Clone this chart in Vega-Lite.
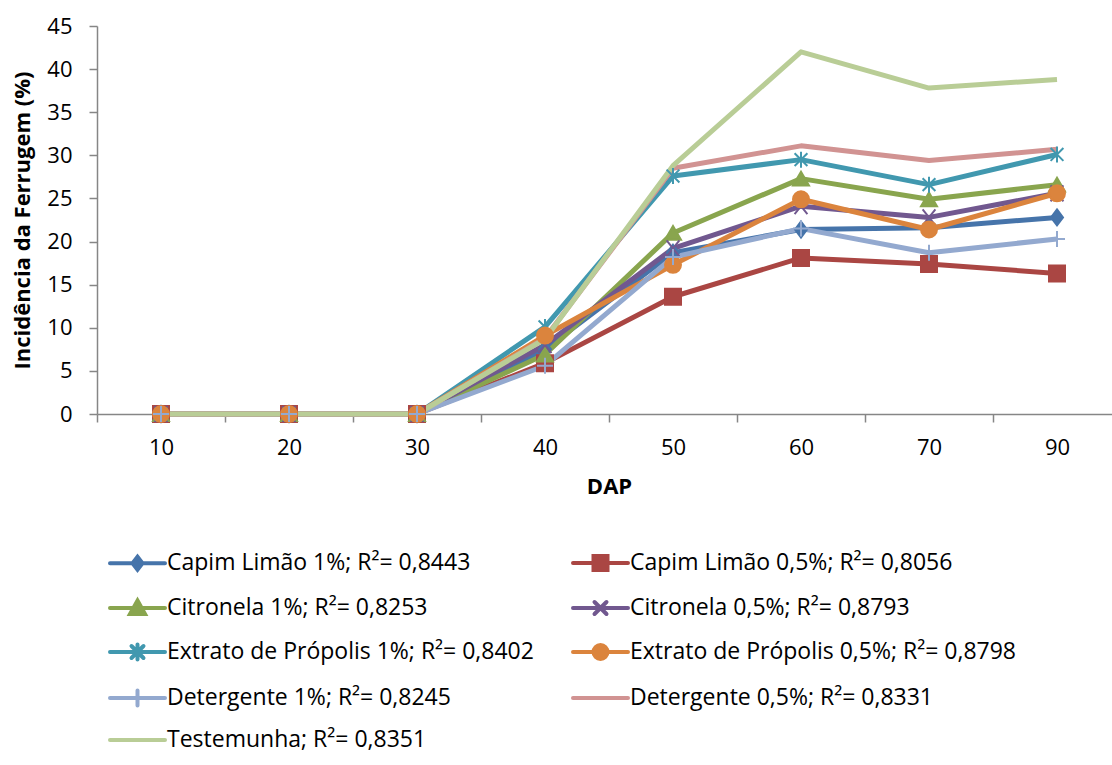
{
  "$schema": "https://vega.github.io/schema/vega-lite/v6.json",
  "autosize": {"type": "none"},
  "padding": {"left": 97, "top": 26, "right": 0, "bottom": 351},
  "width": 1015,
  "height": 388,
  "background": "white",
  "config": {
    "view": {"stroke": null},
    "font": "Open Sans",
    "axis": {
      "labelFont": "Open Sans", "labelFontSize": 22, "labelColor": "#000000",
      "titleFont": "Open Sans", "titleFontSize": 22, "titleFontWeight": "bold", "titleColor": "#000000",
      "domainColor": "#868686", "domainWidth": 1.5, "tickColor": "#868686", "tickWidth": 1.5, "tickSize": 8, "grid": false
    }
  },
  "data": {"values": [
    {"serie": "Capim Limão 1%; R²= 0,8443", "DAP": 10, "v": 0},
    {"serie": "Capim Limão 1%; R²= 0,8443", "DAP": 20, "v": 0},
    {"serie": "Capim Limão 1%; R²= 0,8443", "DAP": 30, "v": 0},
    {"serie": "Capim Limão 1%; R²= 0,8443", "DAP": 40, "v": 7.5},
    {"serie": "Capim Limão 1%; R²= 0,8443", "DAP": 50, "v": 18.7},
    {"serie": "Capim Limão 1%; R²= 0,8443", "DAP": 60, "v": 21.4},
    {"serie": "Capim Limão 1%; R²= 0,8443", "DAP": 70, "v": 21.6},
    {"serie": "Capim Limão 1%; R²= 0,8443", "DAP": 90, "v": 22.8},
    {"serie": "Capim Limão 0,5%; R²= 0,8056", "DAP": 10, "v": 0},
    {"serie": "Capim Limão 0,5%; R²= 0,8056", "DAP": 20, "v": 0},
    {"serie": "Capim Limão 0,5%; R²= 0,8056", "DAP": 30, "v": 0},
    {"serie": "Capim Limão 0,5%; R²= 0,8056", "DAP": 40, "v": 5.9},
    {"serie": "Capim Limão 0,5%; R²= 0,8056", "DAP": 50, "v": 13.6},
    {"serie": "Capim Limão 0,5%; R²= 0,8056", "DAP": 60, "v": 18.1},
    {"serie": "Capim Limão 0,5%; R²= 0,8056", "DAP": 70, "v": 17.4},
    {"serie": "Capim Limão 0,5%; R²= 0,8056", "DAP": 90, "v": 16.3},
    {"serie": "Citronela 1%; R²= 0,8253", "DAP": 10, "v": 0},
    {"serie": "Citronela 1%; R²= 0,8253", "DAP": 20, "v": 0},
    {"serie": "Citronela 1%; R²= 0,8253", "DAP": 30, "v": 0},
    {"serie": "Citronela 1%; R²= 0,8253", "DAP": 40, "v": 6.9},
    {"serie": "Citronela 1%; R²= 0,8253", "DAP": 50, "v": 21.0},
    {"serie": "Citronela 1%; R²= 0,8253", "DAP": 60, "v": 27.3},
    {"serie": "Citronela 1%; R²= 0,8253", "DAP": 70, "v": 24.9},
    {"serie": "Citronela 1%; R²= 0,8253", "DAP": 90, "v": 26.6},
    {"serie": "Citronela 0,5%; R²= 0,8793", "DAP": 10, "v": 0},
    {"serie": "Citronela 0,5%; R²= 0,8793", "DAP": 20, "v": 0},
    {"serie": "Citronela 0,5%; R²= 0,8793", "DAP": 30, "v": 0},
    {"serie": "Citronela 0,5%; R²= 0,8793", "DAP": 40, "v": 8.0},
    {"serie": "Citronela 0,5%; R²= 0,8793", "DAP": 50, "v": 19.2},
    {"serie": "Citronela 0,5%; R²= 0,8793", "DAP": 60, "v": 24.1},
    {"serie": "Citronela 0,5%; R²= 0,8793", "DAP": 70, "v": 22.8},
    {"serie": "Citronela 0,5%; R²= 0,8793", "DAP": 90, "v": 25.6},
    {"serie": "Extrato de Própolis 1%; R²= 0,8402", "DAP": 10, "v": 0},
    {"serie": "Extrato de Própolis 1%; R²= 0,8402", "DAP": 20, "v": 0},
    {"serie": "Extrato de Própolis 1%; R²= 0,8402", "DAP": 30, "v": 0},
    {"serie": "Extrato de Própolis 1%; R²= 0,8402", "DAP": 40, "v": 10.1},
    {"serie": "Extrato de Própolis 1%; R²= 0,8402", "DAP": 50, "v": 27.6},
    {"serie": "Extrato de Própolis 1%; R²= 0,8402", "DAP": 60, "v": 29.5},
    {"serie": "Extrato de Própolis 1%; R²= 0,8402", "DAP": 70, "v": 26.6},
    {"serie": "Extrato de Própolis 1%; R²= 0,8402", "DAP": 90, "v": 30.1},
    {"serie": "Extrato de Própolis 0,5%; R²= 0,8798", "DAP": 10, "v": 0},
    {"serie": "Extrato de Própolis 0,5%; R²= 0,8798", "DAP": 20, "v": 0},
    {"serie": "Extrato de Própolis 0,5%; R²= 0,8798", "DAP": 30, "v": 0},
    {"serie": "Extrato de Própolis 0,5%; R²= 0,8798", "DAP": 40, "v": 9.1},
    {"serie": "Extrato de Própolis 0,5%; R²= 0,8798", "DAP": 50, "v": 17.3},
    {"serie": "Extrato de Própolis 0,5%; R²= 0,8798", "DAP": 60, "v": 24.9},
    {"serie": "Extrato de Própolis 0,5%; R²= 0,8798", "DAP": 70, "v": 21.4},
    {"serie": "Extrato de Própolis 0,5%; R²= 0,8798", "DAP": 90, "v": 25.6},
    {"serie": "Detergente 1%; R²= 0,8245", "DAP": 10, "v": 0},
    {"serie": "Detergente 1%; R²= 0,8245", "DAP": 20, "v": 0},
    {"serie": "Detergente 1%; R²= 0,8245", "DAP": 30, "v": 0},
    {"serie": "Detergente 1%; R²= 0,8245", "DAP": 40, "v": 5.6},
    {"serie": "Detergente 1%; R²= 0,8245", "DAP": 50, "v": 18.2},
    {"serie": "Detergente 1%; R²= 0,8245", "DAP": 60, "v": 21.5},
    {"serie": "Detergente 1%; R²= 0,8245", "DAP": 70, "v": 18.7},
    {"serie": "Detergente 1%; R²= 0,8245", "DAP": 90, "v": 20.3},
    {"serie": "Detergente 0,5%; R²= 0,8331", "DAP": 10, "v": 0},
    {"serie": "Detergente 0,5%; R²= 0,8331", "DAP": 20, "v": 0},
    {"serie": "Detergente 0,5%; R²= 0,8331", "DAP": 30, "v": 0},
    {"serie": "Detergente 0,5%; R²= 0,8331", "DAP": 40, "v": 8.8},
    {"serie": "Detergente 0,5%; R²= 0,8331", "DAP": 50, "v": 28.5},
    {"serie": "Detergente 0,5%; R²= 0,8331", "DAP": 60, "v": 31.1},
    {"serie": "Detergente 0,5%; R²= 0,8331", "DAP": 70, "v": 29.4},
    {"serie": "Detergente 0,5%; R²= 0,8331", "DAP": 90, "v": 30.7},
    {"serie": "Testemunha; R²= 0,8351", "DAP": 10, "v": 0},
    {"serie": "Testemunha; R²= 0,8351", "DAP": 20, "v": 0},
    {"serie": "Testemunha; R²= 0,8351", "DAP": 30, "v": 0},
    {"serie": "Testemunha; R²= 0,8351", "DAP": 40, "v": 8.7},
    {"serie": "Testemunha; R²= 0,8351", "DAP": 50, "v": 28.8},
    {"serie": "Testemunha; R²= 0,8351", "DAP": 60, "v": 42.0},
    {"serie": "Testemunha; R²= 0,8351", "DAP": 70, "v": 37.8},
    {"serie": "Testemunha; R²= 0,8351", "DAP": 90, "v": 38.8}
  ]},
  "encoding": {
    "x": {
      "field": "DAP", "type": "ordinal",
      "scale": {"type": "band", "paddingInner": 0, "paddingOuter": 0, "range": [0, 1024]},
      "axis": {"title": "DAP", "labelAngle": 0, "tickBand": "extent", "labelPadding": 15, "titlePadding": 18}
    },
    "y": {
      "field": "v", "type": "quantitative",
      "scale": {"domain": [0, 45], "nice": false},
      "axis": {"title": "Incidência da Ferrugem (%)", "values": [0, 5, 10, 15, 20, 25, 30, 35, 40, 45], "labelPadding": 17, "titlePadding": 12}
    },
    "color": {
      "field": "serie", "type": "nominal",
      "scale": {
        "domain": ["Capim Limão 1%; R²= 0,8443", "Capim Limão 0,5%; R²= 0,8056", "Citronela 1%; R²= 0,8253", "Citronela 0,5%; R²= 0,8793", "Extrato de Própolis 1%; R²= 0,8402", "Extrato de Própolis 0,5%; R²= 0,8798", "Detergente 1%; R²= 0,8245", "Detergente 0,5%; R²= 0,8331", "Testemunha; R²= 0,8351"],
        "range": ["#4674AA", "#AA4643", "#89A54E", "#71588F", "#4198AF", "#DB843D", "#93A9CF", "#D19392", "#B9CD96"]
      },
      "legend": {
        "title": null,
        "orient": "none",
        "legendX": 46,
        "legendY": 525,
        "direction": "horizontal",
        "columns": 2,
        "padding": 0,
        "columnPadding": 31,
        "rowPadding": 14,
        "labelFont": "Open Sans",
        "labelFontSize": 23,
        "labelColor": "#000000",
        "labelLimit": 600,
        "labelOffset": 0,
        "symbolSize": 400,
        "symbolStrokeWidth": 4,
        "symbolOpacity": 1,
        "encode": {
          "symbols": {
            "update": {
              "shape": {"signal": "['M-4.5,0L1,0M-1.75,-0.65L-1.25,0L-1.75,0.65L-2.25,0Z','M-4.5,0L1,0M-2.45,-0.7L-1.05,-0.7L-1.05,0.7L-2.45,0.7Z','M-4.5,0L1,0M-1.75,-0.75L-1.0,0.6L-2.5,0.6Z','M-4.5,0L1,0M-2.35,-0.6L-1.15,0.6M-2.35,0.6L-1.15,-0.6','M-4.5,0L1,0M-2.35,-0.6L-1.15,0.6M-2.35,0.6L-1.15,-0.6M-1.75,-0.75L-1.75,0.75','M-4.5,0L1,0M-1.05,0C-1.05,0.3866,-1.3634,0.7,-1.75,0.7C-2.1366,0.7,-2.45,0.3866,-2.45,0C-2.45,-0.3866,-2.1366,-0.7,-1.75,-0.7C-1.3634,-0.7,-1.05,-0.3866,-1.05,0Z','M-4.5,0L1,0M-1.75,-0.75L-1.75,0.75','M-4.5,0L1,0','M-4.5,0L1,0'][datum.index]"},
              "size": {"value": 400},
              "fill": {"scale": "color", "field": "value"},
              "stroke": {"scale": "color", "field": "value"},
              "strokeWidth": {"value": 4},
              "strokeCap": {"value": "round"},
              "opacity": {"value": 1},
              "fillOpacity": {"value": 1},
              "strokeOpacity": {"value": 1}
            }
          }
        }
      }
    }
  },
  "layer": [
    {
      "mark": {"type": "line", "strokeWidth": 5, "strokeJoin": "round", "strokeCap": "butt"},
      "encoding": {"detail": {"field": "serie"}}
    },
    {
      "transform": [{"filter": {"not": {"field": "serie", "oneOf": ["Detergente 0,5%; R²= 0,8331", "Testemunha; R²= 0,8351"]}}}],
      "mark": {"type": "point", "filled": true, "opacity": 1, "strokeWidth": 2, "size": 256},
      "encoding": {
        "stroke": {
          "field": "serie", "type": "nominal",
          "scale": {
            "domain": ["Capim Limão 1%; R²= 0,8443", "Capim Limão 0,5%; R²= 0,8056", "Citronela 1%; R²= 0,8253", "Citronela 0,5%; R²= 0,8793", "Extrato de Própolis 1%; R²= 0,8402", "Extrato de Própolis 0,5%; R²= 0,8798", "Detergente 1%; R²= 0,8245"],
            "range": ["#4674AA", "#AA4643", "#89A54E", "#71588F", "#4198AF", "#DB843D", "#93A9CF"]
          },
          "legend": null
        },
        "shape": {
          "field": "serie", "type": "nominal",
          "scale": {
            "domain": ["Capim Limão 1%; R²= 0,8443", "Capim Limão 0,5%; R²= 0,8056", "Citronela 1%; R²= 0,8253", "Citronela 0,5%; R²= 0,8793", "Extrato de Própolis 1%; R²= 0,8402", "Extrato de Própolis 0,5%; R²= 0,8798", "Detergente 1%; R²= 0,8245"],
            "range": ["M0,-1L0.75,0L0,1L-0.75,0Z", "square", "triangle-up", "M-0.8,-1L0.8,1M-0.8,1L0.8,-1", "M-0.8,-0.8L0.8,0.8M-0.8,0.8L0.8,-0.8M0,-1L0,1", "circle", "M0,-1L0,1M-1,0L1,0"]
          },
          "legend": null
        }
      }
    }
  ]
}
